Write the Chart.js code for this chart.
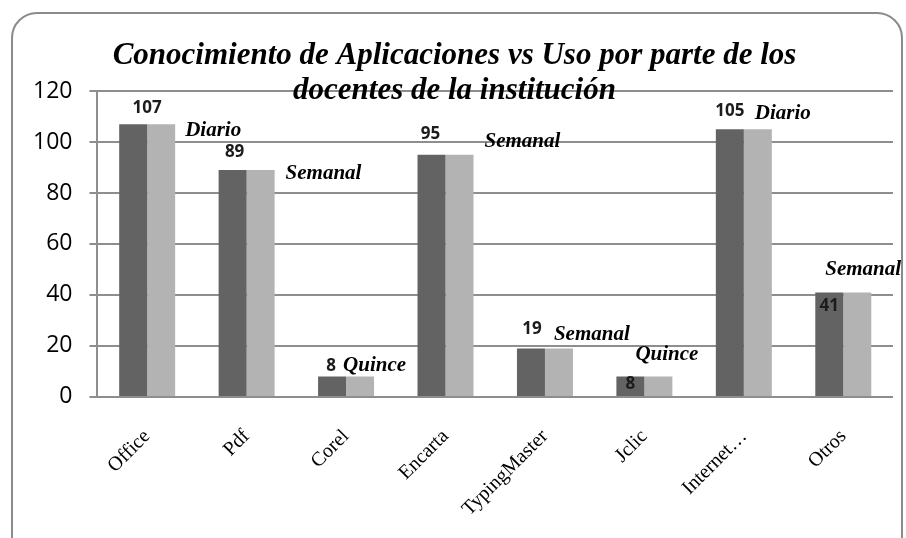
<!DOCTYPE html>
<html>
<head>
<meta charset="utf-8">
<script src="https://cdn.jsdelivr.net/npm/chart.js@4/dist/chart.umd.min.js"></script>
<style>
  html, body { margin: 0; padding: 0; background: #fff; }
  .wrap { position: relative; width: 906px; height: 538px; overflow: hidden; }
  .frame {
    position: absolute; left: 11px; top: 12px; width: 892px; height: 560px;
    border: 2px solid #8b8b8b; border-radius: 26px; box-sizing: border-box;
  }
  #myBarChart { position: absolute; left: 0; top: 0; }
</style>
</head>
<body>
<div class="wrap">
  <div class="frame"></div>
  <canvas id="myBarChart" width="906" height="538"></canvas>
</div>
<script>
//---x-axis
var apps = [ 'Office', 'Pdf', 'Corel', 'Encarta', 'TypingMaster', 'Jclic', 'Internet\u2026', 'Otros' ]

//---data
var conocimiento = [ 107, 89, 8, 95, 19, 8, 105, 41 ]
var uso = [ 107, 89, 8, 95, 19, 8, 105, 41 ]
var frecuencia = [ 'Diario', 'Semanal', 'Quince', 'Semanal', 'Semanal', 'Quince', 'Diario', 'Semanal' ]

//---y-axis
var yMax = 120
var yStep = 20

//---label nudges (px), the original labels were placed by hand
var numOffset = [ [14, -16], [2, -18], [-1, -10], [-1, -21], [1, -19], [0, 8], [0, -18], [0, 14] ]
var freqOffset = [ [10, 6], [11, 4], [-31, -11], [11, -13], [-19, -14], [-37, -22], [-17, -16], [-46, -23] ]

var gridGray = '#8e8e8e';

// labels plugin---------------------------------------------------------------
var barLabels = {
  id: 'barLabels',
  afterDatasetsDraw: function (chart) {
    var c = chart.ctx;
    var dark = chart.getDatasetMeta(0).data;
    var light = chart.getDatasetMeta(1).data;
    c.save();
    c.textBaseline = 'middle';
    for (var i = 0; i < dark.length; i++) {
      c.fillStyle = '#1c1c1c';
      c.textAlign = 'center';
      c.font = 'bold 17px "Open Sans"';
      c.fillText(String(conocimiento[i]), dark[i].x + numOffset[i][0], dark[i].y + numOffset[i][1]);

      c.fillStyle = '#000';
      c.textAlign = 'left';
      c.font = 'italic bold 21px "Liberation Serif"';
      var right = light[i].x + light[i].width / 2;
      c.fillText(frecuencia[i], right + freqOffset[i][0], dark[i].y + freqOffset[i][1]);
    }
    c.restore();
  }
};

var ctxBar = document.getElementById('myBarChart');

var dataBar = {
  labels: apps,
  datasets: [{
    label: 'Conocimiento',
    backgroundColor: '#636363',
    borderWidth: 0,
    data: conocimiento
  }, {
    label: 'Uso',
    backgroundColor: '#b3b3b3',
    borderWidth: 0,
    data: uso
  }]
};

var optionsBar = {
  responsive: false,
  animation: false,
  layout: {
    padding: { left: 16, right: 13, top: 0, bottom: 0 }
  },
  datasets: {
    bar: { categoryPercentage: 0.563, barPercentage: 1 }
  },
  plugins: {
    legend: { display: false },
    tooltip: { enabled: false },
    title: {
      display: true,
      text: [ 'Conocimiento de Aplicaciones vs Uso por parte de los', 'docentes de la instituci\u00f3n' ],
      color: '#000',
      font: { family: '"Liberation Serif"', size: 31, style: 'italic', weight: 'bold', lineHeight: 1.129 },
      padding: { top: 38, bottom: -17 }
    }
  },
  scales: {
    x: {
      grid: { display: false, tickLength: 11 },
      border: { display: false },
      ticks: {
        color: '#000',
        font: { family: '"Liberation Serif"', size: 20 },
        maxRotation: 45,
        minRotation: 45,
        padding: 17,
        autoSkip: false
      }
    },
    y: {
      min: 0,
      max: yMax,
      grid: { color: gridGray, lineWidth: 2, tickLength: 8 },
      border: { display: true, color: gridGray, width: 2 },
      ticks: {
        stepSize: yStep,
        color: '#000',
        padding: 17,
        font: { family: '"Open Sans"', size: 23 }
      }
    }
  }
};

var myBarChart = new Chart(ctxBar, {
  type: 'bar',
  data: dataBar,
  options: optionsBar,
  plugins: [ barLabels ]
});
</script>
</body>
</html>
